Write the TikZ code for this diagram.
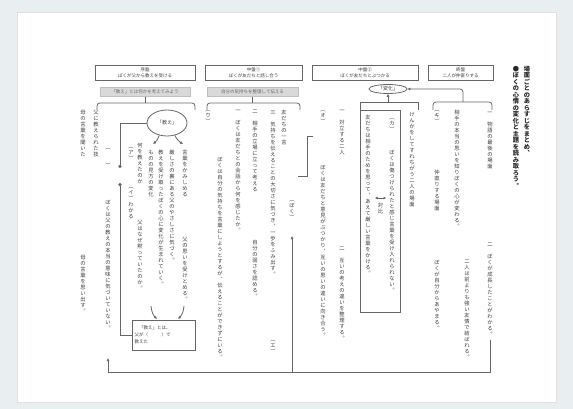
\documentclass[tikz,border=0pt]{standalone}
\usepackage{fontspec}
\newfontfamily\jp{Noto Sans CJK JP}
\usetikzlibrary{arrows.meta,shapes.geometric}
\definecolor{bgc}{HTML}{E9EEF0}
\definecolor{ln}{HTML}{666666}
\definecolor{tx}{HTML}{3C3C3C}
\newlength\vtw \setlength\vtw{5.5pt}
\newlength\vtp \setlength\vtp{6pt}
\def\vtend{\vtend}
\def\vtloop#1{\ifx#1\vtend\else\hbox to\vtw{\hss#1\hss}\expandafter\vtloop\fi}
\newcommand\vtx[1]{\vbox{\baselineskip=\vtp\lineskiplimit=-20pt\lineskip=0pt\relax\vtloop#1\vtend}}
\tikzset{
  vt/.style={font=\jp\fontsize{5.3}{6}\selectfont, text=tx, inner sep=0pt, anchor=north},
  ttl/.style={font=\jp\bfseries\fontsize{6.2}{7}\selectfont\setlength\vtp{6.5pt}\setlength\vtw{7pt}, text=black!85, inner sep=0pt, anchor=north},
  hdr/.style={draw=ln, line width=0.6pt, fill=white, minimum height=15pt, inner sep=0pt, font=\jp\fontsize{4.5}{6}\selectfont, text=tx, align=center},
  ban/.style={fill=black!15, draw=black!25, line width=0.4pt, minimum height=9pt, inner sep=0pt, font=\jp\fontsize{4.5}{5}\selectfont, text=black!60},
  conn/.style={draw=ln, line width=0.8pt},
  tip/.style={-{Latex[length=3pt,width=3pt]}},
  dot/.style={-{Circle[length=3.2pt]}},
  oval/.style={ellipse, draw=ln, line width=0.8pt, inner sep=0pt, font=\jp\fontsize{5}{6}\selectfont, text=tx},
}
\begin{document}
\begin{tikzpicture}[x=1pt,y=-1pt]
\fill[bgc] (0,0) rectangle (573,409);
\useasboundingbox (0,0) rectangle (573,409);
\fill[white] (17,12) rectangle (556,402);
\draw[black!12, line width=0.5pt] (17,12) rectangle (556,402);

% header boxes
\node[hdr, minimum width=100pt] (h1) at (145,72.5) {序盤\\ぼくが父から教えを受ける};
\node[hdr, minimum width=97pt] (h2) at (253.5,72.5) {中盤①\\ぼくが友だちと話し合う};
\node[hdr, minimum width=106pt] (h3) at (365,72.5) {中盤②\\ぼくが友だちとぶつかる};
\node[hdr, minimum width=65pt] (h4) at (460.5,72.5) {終盤\\二人が仲直りする};
% banners
\node[ban, minimum width=90pt] (ban1) at (145,92) {「教え」とは何かを考えてみよう};
\node[ban, minimum width=91pt] (ban2) at (252.5,92) {自分の気持ちを整理して伝える};

% brackets
\coordinate (b1a) at (97,110); \coordinate (b1b) at (97,103); \coordinate (b1c) at (195,103); \coordinate (b1d) at (195,110); \coordinate (b1m) at (145,103);
\draw[conn, rounded corners=3pt] (b1a) -- (b1b) -- (b1c) -- (b1d);
\draw[conn] (ban1.south) -- (b1m);
\coordinate (b2a) at (207,110); \coordinate (b2b) at (207,103); \coordinate (b2c) at (300,103); \coordinate (b2d) at (300,110); \coordinate (b2m) at (252.5,103);
\draw[conn, rounded corners=3pt] (b2a) -- (b2b) -- (b2c) -- (b2d);
\draw[conn] (ban2.south) -- (b2m);

% column 3 ellipse, bracket and box
\node[oval, minimum width=38pt, minimum height=9pt] (e3) at (388,89) {「変化」};
\coordinate (b3a) at (360,110); \coordinate (b3b) at (360,102); \coordinate (b3c) at (418,102); \coordinate (b3d) at (418,110); \coordinate (b3m) at (388,102);
\draw[conn] (b3a) -- (b3b) -- (b3c) -- (b3d);
\draw[conn, tip] (b3m) -- (e3.south);
\node[draw=ln, line width=0.8pt, minimum width=40pt, minimum height=202pt, inner sep=0pt] (box3) at (380,211) {};
\coordinate (b4a) at (433,110); \coordinate (b4b) at (433,102); \coordinate (b4c) at (492,102); \coordinate (b4d) at (492,110); \coordinate (b4m) at (463,102); \coordinate (b4u) at (463,89);
\draw[conn, rounded corners=3pt] (b4a) -- (b4b) -- (b4c) -- (b4d);
\draw[conn, tip, rounded corners=3pt] (b4m) -- (b4u) -- (e3.east);
\coordinate (dl) at (375,198); \coordinate (dr) at (386,198);
\draw[conn, line width=0.7pt, {Latex[length=2.5pt,width=3pt]}-{Latex[length=2.5pt,width=3pt]}] (dl) -- (dr);
\node[vt] (t3x) at (380.5,203) {\vtx{対比}};

% bracket between col2/col3
\coordinate (k1) at (313,136); \coordinate (k2) at (307,136); \coordinate (k3) at (307,176); \coordinate (k4) at (298,176);
\draw[conn] (k1) -- (k2) -- (k3) -- (k4);

% column 1 ellipse and box
\node[oval, minimum width=40pt, minimum height=26pt] (e1) at (167,123) {「教え」};
\coordinate (d1) at (153,144); \coordinate (d2) at (183,144);
\draw[conn, tip] (e1.238) to[bend left=15] (d1);
\draw[conn, tip] (e1.302) to[bend right=15] (d2);
\node[draw=ln, line width=0.8pt, minimum width=63pt, minimum height=30pt, inner sep=2pt, font=\jp\fontsize{4.5}{7}\selectfont, text=tx, align=left, text width=58pt] (box1) at (163.5,335) {\quad「教え」とは、\\父が（\qquad\quad）で\\教えた};
\coordinate (l1) at (120,168); \coordinate (l2) at (120,183);
\draw[conn, dot] (e1.west) -| (l1);
\draw[conn, dot] (box1.west) -| (l2);
\coordinate (a1s) at (151,306); \coordinate (a1e) at (157,319);
\coordinate (a2s) at (184,306); \coordinate (a2e) at (178,319);
\draw[conn, tip] (a1s) to[bend right=20] (a1e);
\draw[conn, tip] (a2s) to[bend left=20] (a2e);

% bottom return line
\coordinate (br) at (490,340); \coordinate (c1) at (490,372); \coordinate (c2) at (108,372); \coordinate (bl) at (108,358);
\coordinate (bm) at (292,372); \coordinate (bmt) at (292,236);
\draw[conn, tip] (br) -- (c1) -- (c2) -- (bl);
\draw[conn, tip] (bm) -- (bmt);

% column 1 texts
\node[vt] (t11) at (83,110) {\vtx{母の言葉を聞いた}};
\node[vt] (t12) at (83,255) {\vtx{母の言葉を思い出す︒}};
\node[vt] (t13) at (96,110) {\vtx{父に教えられた技}};
\node[vt] (t14) at (108,148) {\vtx{︵　　︶}};
\node[vt] (t15) at (108,200) {\vtx{ぼくは父の教えの本当の意味に気づいていない︒}};
\node[vt] (t16) at (131,147) {\vtx{︵ア︶}};
\node[vt] (t17) at (131,187) {\vtx{︵イ︶わかる}};
\node[vt] (t18) at (140,143) {\vtx{何を教えたのか}};
\node[vt] (t19) at (140,220) {\vtx{父はなぜ黙っていたのか︒}};
\node[vt] (t110) at (151,150) {\vtx{ものの見方の変化}};
\node[vt] (t111) at (161,150) {\vtx{教えを受け取ったぼくの心に変化が生まれていく︒}};
\node[vt] (t112) at (172,150) {\vtx{厳しさの裏にある父のやさしさに気づく︒}};
\node[vt] (t113) at (185,150) {\vtx{言葉をかみしめる}};
\node[vt] (t114) at (185,237) {\vtx{父の思いを受けとめる︒}};

% column 2 texts
\node[vt] (t21) at (208,110) {\vtx{︵ウ︶}};
\node[vt] (t22) at (220,157) {\vtx{ぼくは自分の気持ちを言葉にしようとするが︑伝えることができずにいる︒}};
\node[vt] (t23) at (238,110) {\vtx{一　ぼくは友だちとの会話から何を感じたか︒}};
\node[vt] (t24) at (255,110) {\vtx{二　相手の立場に立って考える}};
\node[vt] (t25) at (255,240) {\vtx{自分の弱さを認める︒}};
\node[vt] (t26) at (273,110) {\vtx{三　気持ちを伝えることの大切さに気づき︑一歩をふみ出す︒}};
\node[vt] (t27) at (273,340) {\vtx{︵エ︶}};
\node[vt] (t28) at (284,110) {\vtx{友だちの一言}};
\node[vt] (t29) at (292,200) {\vtx{︵ぼく︶}};

% column 3 texts
\node[vt] (t31) at (323,110) {\vtx{︵オ︶}};
\node[vt] (t32) at (323,165) {\vtx{ぼくは友だちと意見がぶつかり︑互いの思いの違いに向き合う︒}};
\node[vt] (t33) at (342,110) {\vtx{一　対立する二人}};
\node[vt] (t34) at (342,247) {\vtx{二　互いの考えの違いを整理する︒}};
\node[vt] (t35) at (368,115) {\vtx{友だちは相手のためを思って︑あえて厳しい言葉をかける︒}};
\node[vt] (t36) at (392,118) {\vtx{︵カ︶}};
\node[vt] (t37) at (392,150) {\vtx{ぼくは傷つけられたと感じ言葉を受け入れられない︒}};
\node[vt] (t38) at (412,112) {\vtx{けんかをしてすれちがう二人の場面}};

% column 4 texts
\node[vt] (t41) at (437,110) {\vtx{︵キ︶}};
\node[vt] (t42) at (437,170) {\vtx{仲直りする場面}};
\node[vt] (t43) at (437,260) {\vtx{ぼくが自分からあやまる︒}};
\node[vt] (t44) at (457,110) {\vtx{相手の本当の思いを知りぼくの心が変わる︒}};
\node[vt] (t45) at (467,260) {\vtx{二人は前よりも強い友情で結ばれる︒}};
\node[vt] (t46) at (490,112) {\vtx{一　物語の最後の場面}};
\node[vt] (t47) at (490,243) {\vtx{二　ぼくが成長したことがわかる︒}};

% title
\node[ttl] (tt1) at (527,66) {\vtx{場面ごとのあらすじをまとめ︑}};
\node[ttl] (tt2) at (516,66) {\vtx{●ぼくの心情の変化と主題を読み取ろう︒}};
\end{tikzpicture}
\end{document}
